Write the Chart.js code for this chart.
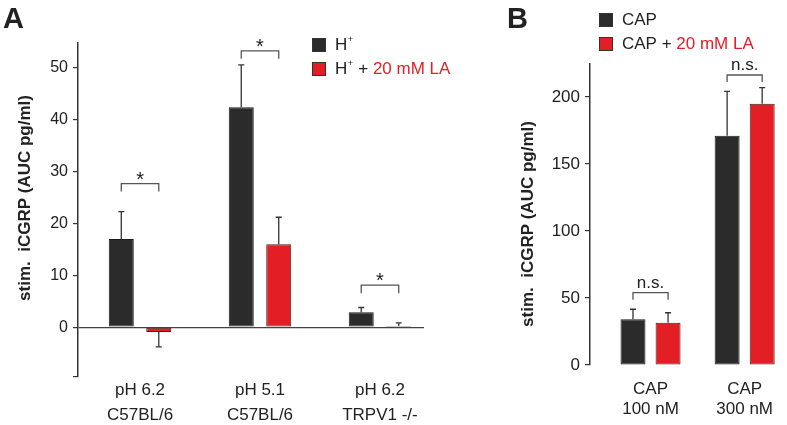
<!DOCTYPE html>
<html>
<head>
<meta charset="utf-8">
<script src="https://cdn.jsdelivr.net/npm/chart.js@4.4.0/dist/chart.umd.min.js"></script>
<style>
  body { margin: 0; background: #fff; width: 787px; height: 425px; position: relative; overflow: hidden; }
  #panelA { position: absolute; left: 0; top: 0; }
  #panelB { position: absolute; left: 480px; top: 0; }
</style>
</head>
<body>
<canvas id="panelA" width="480" height="425"></canvas>
<canvas id="panelB" width="307" height="425"></canvas>
<script>
// panel A: proton-evoked release
const categoriesA = [['pH 6.2', 'C57BL/6'], ['pH 5.1', 'C57BL/6'], ['pH 6.2', 'TRPV1 -/-']];
const seriesA = ['H⁺', 'H⁺ + 20 mM LA'];
const protonA = [17.0, 42.4, 2.9];
const protonErrA = [5.3, 8.2, 0.9];
const protonLaA = [-0.9, 16.0, 0.25];
const protonLaErrA = [2.9, 5.2, 0.6];
const sigA = ['*', '*', '*'];
const sigLevelA = [27.7, 53.3, 8.1];
const yTicksA = [0, 10, 20, 30, 40, 50];

// panel B: capsaicin-evoked release
const categoriesB = [['CAP', '100 nM'], ['CAP', '300 nM']];
const seriesB = ['CAP', 'CAP + 20 mM LA'];
const capB = [34.1, 171.1];
const capErrB = [7.5, 33];
const capLaB = [31.6, 195];
const capLaErrB = [7.4, 12];
const sigB = ['n.s.', 'n.s.'];
const sigLevelB = [54, 216.4];
const yTicksB = [0, 50, 100, 150, 200];

const yTitle = 'stim.  iCGRP (AUC pg/ml)';
const LA_TEXT = '20 mM LA';

const FONT = '"Liberation Sans", Arial, sans-serif';
const DARK = '#2b2b2b', RED = '#e31e25', INK = '#222';

Chart.defaults.font.family = FONT;
Chart.defaults.color = INK;

// text with a small raised plus for ⁺ and the lactate part in red
function drawRich(ctx, text, x, y, size) {
    const cut = text.indexOf(LA_TEXT);
    const pieces = cut < 0 ? [[text, INK]] : [[text.slice(0, cut), INK], [text.slice(cut), RED]];
    ctx.textBaseline = 'middle';
    ctx.textAlign = 'left';
    pieces.forEach(([str, color]) => {
        ctx.fillStyle = color;
        str.split(/(⁺)/).forEach(s => {
            if (!s) return;
            if (s === '⁺') {
                ctx.font = Math.round(size * 0.55) + 'px ' + FONT;
                ctx.fillText('+', x + 0.5, y - size * 0.32);
                x += ctx.measureText('+').width + 1;
            } else {
                ctx.font = size + 'px ' + FONT;
                ctx.fillText(s, x, y);
                x += ctx.measureText(s).width;
            }
        });
    });
}

const panelPlugin = {
    id: 'panel',
    afterDatasetsDraw(chart, args, o) {
        const ctx = chart.ctx, yScale = chart.scales.y;
        const metas = chart.data.datasets.map((_, d) => chart.getDatasetMeta(d));
        ctx.save();
        // error bars
        ctx.strokeStyle = '#333';
        ctx.lineWidth = 1.3;
        chart.data.datasets.forEach((ds, d) => {
            metas[d].data.forEach((bar, i) => {
                const v = ds.data[i].y, e = ds.errors[i];
                const end = yScale.getPixelForValue(v < 0 ? v - e : v + e);
                ctx.beginPath();
                ctx.moveTo(bar.x, bar.y);
                ctx.lineTo(bar.x, end);
                ctx.moveTo(bar.x - 3, end);
                ctx.lineTo(bar.x + 3, end);
                ctx.stroke();
            });
        });
        // significance brackets
        ctx.strokeStyle = '#555';
        o.sig.forEach((label, i) => {
            const x0 = metas[0].data[i].x, x1 = metas[1].data[i].x;
            const y = yScale.getPixelForValue(o.sigLevel[i]);
            ctx.beginPath();
            ctx.moveTo(x0, y + o.leg);
            ctx.lineTo(x0, y);
            ctx.lineTo(x1, y);
            ctx.lineTo(x1, y + o.leg);
            ctx.stroke();
            ctx.fillStyle = INK;
            ctx.font = o.sigFont + 'px ' + FONT;
            ctx.textAlign = 'center';
            ctx.textBaseline = 'alphabetic';
            ctx.fillText(label, (x0 + x1) / 2, y - o.sigLift);
        });
        ctx.restore();
    },
    afterDraw(chart, args, o) {
        const ctx = chart.ctx;
        ctx.save();
        // panel letter
        ctx.fillStyle = INK;
        ctx.font = 'bold 29px ' + FONT;
        ctx.textAlign = 'left';
        ctx.textBaseline = 'alphabetic';
        ctx.fillText(o.letter, o.letterX, 28);
        // y title
        ctx.save();
        ctx.translate(o.titleX, o.titleY);
        ctx.rotate(-Math.PI / 2);
        ctx.font = 'bold 17px ' + FONT;
        ctx.textAlign = 'center';
        ctx.textBaseline = 'middle';
        ctx.fillText(yTitle, 0, 0);
        ctx.restore();
        // legend
        chart.data.datasets.forEach((ds, d) => {
            const top = o.legendY + d * o.legendGap;
            ctx.fillStyle = ds.backgroundColor;
            ctx.strokeStyle = '#333';
            ctx.lineWidth = 1;
            ctx.fillRect(o.legendX, top, 14, 14);
            ctx.strokeRect(o.legendX + 0.5, top + 0.5, 13, 13);
            drawRich(ctx, ds.label, o.legendX + 23, top + 7, 17);
        });
        ctx.restore();
    }
};

function makePanel(id, cfg) {
    const datasets = cfg.series.map((name, d) => ({
        label: name,
        data: cfg.values[d].map((v, i) => ({ x: i, y: v })),
        errors: cfg.errors[d],
        backgroundColor: d === 0 ? DARK : RED,
        borderColor: d === 0 ? '#1a1a1a' : '#3a2020',
        borderWidth: 1,
        borderSkipped: false,
        categoryPercentage: cfg.catPct,
        barPercentage: cfg.barPct
    }));
    return new Chart(document.getElementById(id), {
        type: 'bar',
        data: { datasets: datasets },
        plugins: [panelPlugin],
        options: {
            responsive: false,
            animation: false,
            devicePixelRatio: 1,
            layout: { padding: { top: cfg.top, right: cfg.right, left: 0, bottom: 0 } },
            plugins: {
                legend: { display: false },
                tooltip: { enabled: false },
                panel: cfg.panel
            },
            scales: {
                x: {
                    type: 'linear',
                    min: cfg.xMin,
                    max: cfg.xMax,
                    offset: false,
                    afterFit: s => { s.height = cfg.xHeight; },
                    afterBuildTicks: s => { s.ticks = cfg.categories.map((_, i) => ({ value: i })); },
                    border: { display: false },
                    grid: { display: false, drawTicks: false },
                    ticks: {
                        autoSkip: false,
                        maxRotation: 0,
                        padding: cfg.xPad,
                        color: INK,
                        font: { size: 17, lineHeight: cfg.xLine },
                        callback: (v, i) => cfg.categories[i]
                    }
                },
                y: {
                    min: cfg.yMin,
                    max: cfg.yMax,
                    afterFit: s => { s.width = cfg.yWidth; },
                    afterBuildTicks: s => {
                        const extra = cfg.yMin < 0 ? [cfg.yMin] : [];
                        s.ticks = extra.concat(cfg.yTicks).map(v => ({ value: v }));
                    },
                    border: { color: '#333', width: 1.5 },
                    grid: {
                        drawOnChartArea: cfg.zeroLine,
                        color: c => (c.tick && c.tick.value === 0) ? '#444' : 'rgba(0,0,0,0)',
                        tickColor: '#333',
                        tickLength: 5,
                        lineWidth: 1.2
                    },
                    ticks: {
                        padding: 5,
                        color: INK,
                        font: { size: cfg.yFont },
                        callback: v => cfg.yTicks.includes(v) ? v : ''
                    }
                }
            }
        }
    });
}

makePanel('panelA', {
    categories: categoriesA, series: seriesA,
    values: [protonA, protonLaA], errors: [protonErrA, protonLaErrA],
    catPct: 0.625, barPct: 0.667,
    xMin: -0.517, xMax: 2.367, yMin: -9.6, yMax: 54.8, yTicks: yTicksA,
    top: 43, right: 56, yWidth: 78, xHeight: 48, xPad: 1, xLine: 1.47, yFont: 16,
    zeroLine: true,
    panel: {
        letter: 'A', letterX: 3, titleX: 25, titleY: 198,
        legendX: 312, legendY: 38, legendGap: 24,
        sig: sigA, sigLevel: sigLevelA, sigFont: 20, sigLift: -2, leg: 8
    }
});

makePanel('panelB', {
    categories: categoriesB, series: seriesB,
    values: [capB, capLaB], errors: [capErrB, capLaErrB],
    catPct: 0.745, barPct: 0.712,
    xMin: -0.643, xMax: 1.367, yMin: 0, yMax: 224.6, yTicks: yTicksB,
    top: 64, right: 0, yWidth: 110, xHeight: 60, xPad: 14, xLine: 1.18, yFont: 17,
    zeroLine: false,
    panel: {
        letter: 'B', letterX: 27, titleX: 48, titleY: 224,
        legendX: 119, legendY: 13, legendGap: 24,
        sig: sigB, sigLevel: sigLevelB, sigFont: 17, sigLift: 5, leg: 7
    }
});
</script>
</body>
</html>
